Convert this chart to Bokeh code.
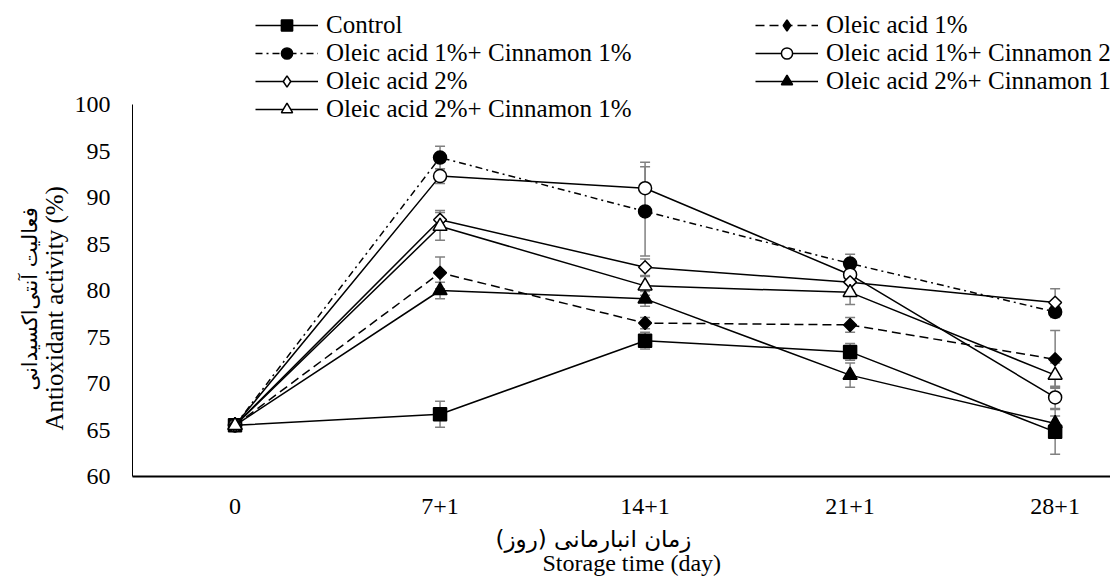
from bokeh.plotting import figure
from bokeh.models import (Range1d, FixedTicker, Legend, LegendItem, Title,
                          Whisker, TeeHead, ColumnDataSource)
from bokeh.embed import file_html
from bokeh.resources import INLINE
import math

# ---------------- data ----------------
categories = ["0", "7+1", "14+1", "21+1", "28+1"]
x_pos = [0, 1, 2, 3, 4]

control = [65.5, 66.7, 74.6, 73.4, 64.8]
oleic1 = [65.5, 81.9, 76.5, 76.3, 72.6]
oleic1_cin1 = [65.5, 94.3, 88.5, 82.9, 77.7]
oleic1_cin2 = [65.5, 92.3, 91.0, 81.7, 68.5]
oleic2 = [65.5, 87.6, 82.5, 80.9, 78.7]
oleic2_cin1 = [65.5, 80.0, 79.1, 70.9, 65.7]
oleic2_cin1pct = [65.5, 86.9, 80.5, 79.8, 70.9]

control_err = [0.0, 1.4, 0.9, 0.9, 2.4]
oleic1_err = [0.0, 1.7, 0.6, 0.8, 3.1]
oleic1_cin1_err = [0.0, 1.2, 4.8, 1.0, 0.6]
oleic1_cin2_err = [0.0, 0.8, 2.8, 1.0, 1.2]
oleic2_err = [0.0, 1.0, 0.9, 1.0, 1.5]
oleic2_cin1_err = [0.0, 0.9, 0.8, 1.3, 0.8]
oleic2_cin1pct_err = [0.0, 1.5, 1.0, 1.3, 1.3]

labels = ["Control", "Oleic acid 1%", "Oleic acid 1%+ Cinnamon 1%",
          "Oleic acid 1%+ Cinnamon 2", "Oleic acid 2%",
          "Oleic acid 2%+ Cinnamon 1", "Oleic acid 2%+ Cinnamon 1%"]

y_ticks = [60, 65, 70, 75, 80, 85, 90, 95, 100]
y_min, y_max = 60, 100

x_title_fa = "زمان انبارمانی (روز)"
x_title_en = "Storage time (day)"
y_title_fa = "فعالیت آنتی\u200cاکسیدانی"
y_title_en = "Antioxidant activity (%)"

# ---------------- figure ----------------
SERIF = "Liberation Serif"
FA_FONT = "DejaVu Sans"

W, H = 1110, 577
BOTTOM = 101
px_per_unit = 9.3
y_top = y_min + (H - BOTTOM) / px_per_unit   # frame reaches the top so the legend fits inside it

p = figure(width=W, height=H, output_backend="svg", toolbar_location=None,
           x_range=Range1d(-0.5, 4.27), y_range=Range1d(y_min, y_top),
           min_border_left=132, min_border_right=0, min_border_top=0,
           min_border_bottom=BOTTOM, background_fill_color="white",
           border_fill_color="white")
p.outline_line_color = None
p.grid.visible = False

# x axis
xa = p.xaxis[0]
xa.ticker = FixedTicker(ticks=x_pos)
xa.major_label_overrides = {i: c for i, c in zip(x_pos, categories)}
xa.axis_line_width = 2
xa.axis_line_color = "black"
xa.major_tick_line_color = None
xa.minor_tick_line_color = None
xa.major_label_text_font = SERIF
xa.major_label_text_font_size = "24px"
xa.major_label_text_color = "black"
xa.major_label_standoff = 16

# y axis
ya = p.yaxis[0]
ya.ticker = FixedTicker(ticks=y_ticks)
ya.bounds = (y_min, y_max)
ya.axis_line_width = 1
ya.axis_line_color = "black"
ya.major_tick_line_color = None
ya.minor_tick_line_color = None
ya.major_label_text_font = SERIF
ya.major_label_text_font_size = "24px"
ya.major_label_text_color = "black"
ya.major_label_standoff = 16

# axis titles (two lines each: Persian + English)
p.add_layout(Title(text=y_title_en, align="left", offset=46, vertical_align="bottom",
                   standoff=8, text_font=SERIF, text_font_size="25px",
                   text_font_style="normal", text_color="black"), "left")
p.add_layout(Title(text=y_title_fa, align="left", offset=86, vertical_align="top",
                   standoff=-19, text_font=FA_FONT, text_font_size="21px",
                   text_font_style="normal", text_color="black"), "left")
p.add_layout(Title(text=x_title_fa, align="left", offset=363, vertical_align="top",
                   standoff=19, text_font=FA_FONT, text_font_size="23px",
                   text_font_style="normal", text_color="black"), "below")
p.add_layout(Title(text=x_title_en, align="left", offset=410, vertical_align="top",
                   standoff=-27, text_font=SERIF, text_font_size="24px",
                   text_font_style="normal", text_color="black"), "below")

# ---------------- series ----------------
series = [
    (control, control_err, "solid", "square", "black", 13),
    (oleic1, oleic1_err, "9 5", "diamond", "black", 13),
    (oleic1_cin1, oleic1_cin1_err, "7 4 2 4", "circle", "black", 13),
    (oleic1_cin2, oleic1_cin2_err, "solid", "circle", "white", 13),
    (oleic2, oleic2_err, "solid", "diamond", "white", 13),
    (oleic2_cin1, oleic2_cin1_err, "solid", "triangle", "black", 14),
    (oleic2_cin1pct, oleic2_cin1pct_err, "solid", "triangle", "white", 14),
]

items = []
for (vals, errs, dash, marker, fill, size), lab in zip(series, labels):
    src = ColumnDataSource(dict(x=x_pos, y=vals,
                                upper=[v + e for v, e in zip(vals, errs)],
                                lower=[v - e for v, e in zip(vals, errs)]))
    lr = p.line("x", "y", source=src, line_color="black", line_width=1.5, line_dash=dash)
    if marker == "diamond":
        p.scatter("x", "y", source=src, marker="square", angle=math.pi / 4,
                  size=size * 0.70, fill_color=fill, line_color="black", line_width=1.5)
        leg = p.scatter(x=[float("nan")], y=[float("nan")], marker="diamond",
                        size=size, fill_color=fill, line_color="black", line_width=1.5)
    else:
        leg = p.scatter("x", "y", source=src, marker=marker, size=size,
                        fill_color=fill, line_color="black", line_width=1.5)
    w = Whisker(source=src, base="x", upper="upper", lower="lower",
                line_color="#808080", line_width=1.5,
                upper_head=TeeHead(size=10, line_color="#808080", line_width=1.5),
                lower_head=TeeHead(size=10, line_color="#808080", line_width=1.5))
    p.add_layout(w)
    items.append(LegendItem(label=lab, renderers=[lr, leg]))

def make_legend(its, loc):
    lg = Legend(items=its, location=loc, orientation="vertical",
                label_text_font=SERIF, label_text_font_size="25px",
                label_text_color="black", glyph_width=63, glyph_height=28,
                label_height=28, label_standoff=8, spacing=0, padding=0,
                margin=0, border_line_color=None, background_fill_alpha=0)
    return lg

left_items = [items[0], items[2], items[4], items[6]]
right_items = [items[1], items[3], items[5]]
p.add_layout(make_legend(left_items, (123, 353)))
p.add_layout(make_legend(right_items, (623, 381)))

open("out.html", "w").write(file_html(p, INLINE))
